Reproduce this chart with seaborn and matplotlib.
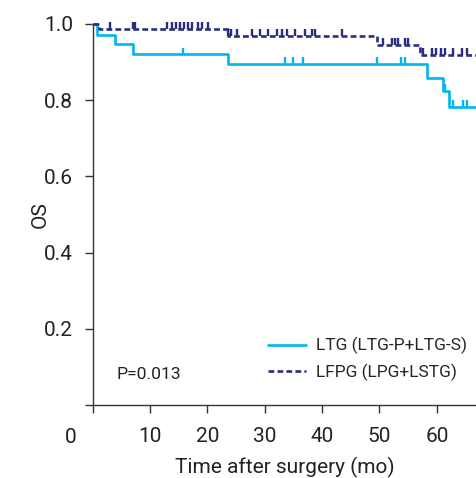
import numpy as np
import pandas as pd
import seaborn as sns
import matplotlib.pyplot as plt

# Kaplan-Meier steps (months, survival)
ltg_time = [0, 0.8, 3.9, 7.0, 23.6, 58.2, 61.1, 62.1, 66.9]
ltg_surv = [1.0, 0.970, 0.947, 0.920, 0.895, 0.857, 0.825, 0.782, 0.782]
ltg_cens = [15.7, 33.5, 35.0, 36.6, 49.6, 53.8, 54.4, 61.5, 62.8, 64.6, 65.2]

lfpg_time = [0, 1.2, 23.6, 49.5, 57.0, 67.0]
lfpg_surv = [1.0, 0.987, 0.969, 0.945, 0.919, 0.919]
lfpg_cens = [3.0, 7.0, 7.4, 12.9, 13.8, 14.5, 15.2, 16.0, 16.7, 17.4, 18.3, 19.0, 20.2,
             23.6, 24.2, 25.1, 27.7, 29.2, 30.6, 32.1, 33.0, 33.8, 35.3, 37.0, 38.2, 38.7, 43.4,
             50.6, 52.1, 52.7, 53.2, 54.4, 55.0,
             57.6, 59.1, 59.9, 60.8, 61.4, 62.8, 64.4, 65.2]

labels = ["LTG (LTG-P+LTG-S)", "LFPG (LPG+LSTG)"]
colors = ["#00b6ee", "#2b2e7f"]
p_text = "P=0.013"

sns.set_style("ticks")
plt.rcParams['font.family'] = ['Roboto', 'DejaVu Sans']

fig = plt.figure(figsize=(4.77, 4.78), dpi=100)
ax = fig.add_axes([92.6 / 477, 73 / 478, 384.4 / 477, 381 / 478])

def surv_at(times, survs, t):
    idx = np.searchsorted(times, t, side='right') - 1
    return np.array(survs)[idx]

groups = [(ltg_time, ltg_surv, ltg_cens, '-'), (lfpg_time, lfpg_surv, lfpg_cens, (0, (2.2, 1.2)))]
for (tt, ss, cc, ls), lab, col in zip(groups, labels, colors):
    df = pd.DataFrame({'t': tt, 's': ss})
    sns.lineplot(data=df, x='t', y='s', drawstyle='steps-post', color=col, lw=1.9,
                 linestyle=ls, label=lab, ax=ax, clip_on=False)
    cy = surv_at(tt, ss, cc)
    ax.vlines(cc, cy, cy + 0.018, color=col, lw=1.7, clip_on=False)

fs = 15
ax.set_xlim(0, 67)
ax.set_ylim(0, 1.0)
ax.set_xticks([0, 10, 20, 30, 40, 50, 60])
ax.set_xticklabels(['', '10', '20', '30', '40', '50', '60'])
ax.set_yticks([0, 0.2, 0.4, 0.6, 0.8, 1.0])
ax.set_yticklabels(['', '0.2', '0.4', '0.6', '0.8', '1.0'])
ax.tick_params(axis='both', labelsize=fs, length=6, width=1, color='#333333', labelcolor='#222222')
ax.tick_params(axis='x', pad=10)
ax.tick_params(axis='y', pad=8)
ax.text(-3.8, -0.084, '0', ha='center', va='center', fontsize=fs, color='#222222')
sns.despine(ax=ax)
for sp in ['left', 'bottom']:
    ax.spines[sp].set_color('#333333')
    ax.spines[sp].set_linewidth(1)

ax.set_xlabel('Time after surgery (mo)', fontsize=fs, labelpad=8, color='#222222')
ax.set_ylabel('OS', fontsize=fs, labelpad=-4, color='#222222')

ax.legend(loc='lower right', bbox_to_anchor=(1.0, 0.035), frameon=False, fontsize=12.5,
          handlelength=2.2, handletextpad=0.55, labelspacing=0.55, borderaxespad=0.2)
ax.text(4.2, 0.08, p_text, ha='left', va='center', fontsize=12.6, color='#222222')

fig.savefig('out.png', dpi=100)
